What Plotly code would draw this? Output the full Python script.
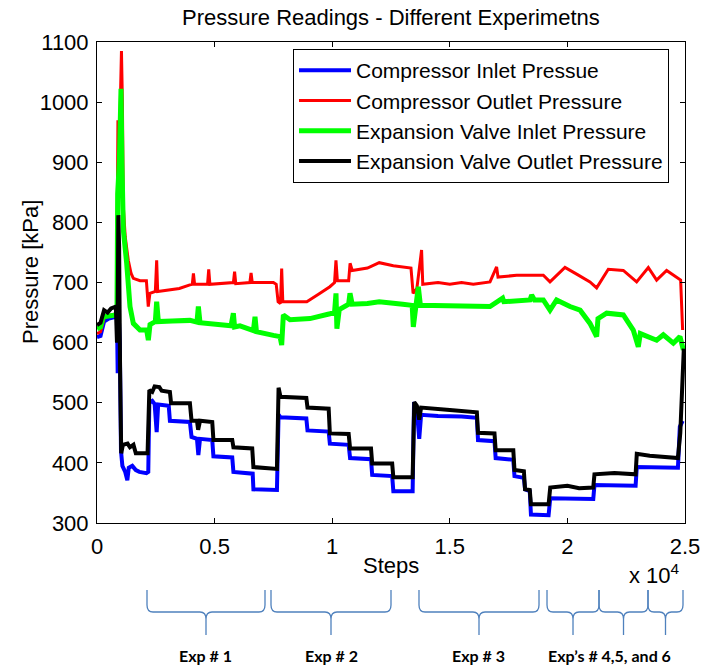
import plotly.graph_objects as go

# ---------------- data ----------------
inlet_steps = [0,150,300,500,800,850,880,930,970,1020,1080,1200,1290,1350,1500,1650,1800,2100,2180,2225,2350,2450,2537,2600,3050,3100,3950,4020,4250,4309,4380,4900,4950,5750,5800,6620,6650,7650,7720,7800,8900,8950,9850,9900,10700,10760,11650,11700,12550,12600,13420,13480,13600,13700,13780,14500,15500,16150,16200,16900,16950,17700,17750,18150,18200,18400,18450,19200,19270,21100,21150,22900,22950,24700,24780,24900]
inlet_kpa = [609,611,635,640,643,640,549,640,600,420,395,385,371,392,395,388,385,383,385,500,503,498,451,497,495,470,468,443,440,413,440,438,411,409,385,382,356,355,480,476,474,454,452,432,430,408,406,380,378,353,353,501,488,440,480,478,477,475,438,436,408,405,378,375,356,353,314,313,341,340,363,362,393,392,460,470]

outlet_comp_steps = [0,150,300,500,800,850,870,890,920,980,1040,1080,1120,1200,1330,1450,1545,1830,2100,2180,2250,2480,2537,2580,3000,3500,3950,4050,4100,4150,4700,4750,4800,5800,5850,5900,6500,6550,6600,7500,7620,7700,7800,7852,7900,8920,9400,9900,10100,10160,10220,10700,10760,10850,11500,12000,12600,13350,13440,13600,13800,13850,14500,15000,15500,16000,16709,16990,17050,17840,18551,18976,19260,19897,20393,20960,21243,21739,22377,22944,23440,23794,24219,24644,24814,24899]
outlet_comp_kpa = [615,618,640,645,648,650,850,970,870,1000,1085,1000,826,776,737,715,707,703,703,660,682,685,737,685,687,690,696,697,715,697,697,722,697,700,718,698,700,716,700,700,697,668,665,723,668,668,680,693,700,737,703,703,732,720,724,733,728,724,682,690,754,697,700,697,700,697,701,726,709,712,712,712,701,725,714,701,691,722,720,701,725,704,720,709,704,621]

valve_in_steps = [0,150,269,500,808,850,879,950,1021,1060,1120,1262,1403,1545,1828,2112,2183,2254,2480,2537,2608,3200,3954,4250,4309,4380,5000,5700,5797,5850,6080,6650,6718,6780,7500,7781,7852,7923,8206,9056,9906,10100,10161,10200,10300,10700,10757,10850,11500,12000,13000,13400,13449,13550,13661,13750,15000,16000,16709,17247,17300,18410,18480,18600,18976,19260,19540,20110,20540,20960,21243,21300,21670,22377,22800,23014,23100,23794,24078,24503,24786,24930]
valve_in_kpa = [623,626,643,644,646,650,848,900,1022,900,787,732,660,632,621,621,604,630,635,668,635,636,637,634,660,633,630,628,649,626,628,620,643,618,612,610,596,646,638,640,648,650,682,623,655,664,682,664,665,668,664,662,626,660,693,662,662,660,660,674,668,671,679,671,671,654,671,660,654,632,610,640,649,646,621,593,615,604,613,599,610,588]

valve_out_steps = [0,150,300,450,600,800,850,880,907,940,980,1030,1100,1300,1400,1550,1650,2150,2225,2350,2450,2650,2750,3100,3150,3950,4020,4250,4300,4380,4900,4950,5750,5800,6600,6650,7650,7720,7800,8900,8950,9850,9900,10700,10760,11650,11700,12550,12600,13420,13490,13600,13700,13780,15000,16150,16200,16900,16950,17700,17750,18150,18200,18400,18450,19200,19270,20000,20500,21100,21150,22000,22900,22950,23500,24000,24700,24800,24950]
valve_out_kpa = [629,633,654,650,657,660,600,645,812,760,560,416,430,432,426,430,416,416,521,518,527,526,520,518,499,499,470,470,455,470,468,438,438,426,424,393,390,525,510,508,492,490,449,448,424,424,399,399,376,376,501,495,472,492,488,484,450,449,421,421,388,386,356,355,331,331,359,362,358,359,381,383,381,415,412,410,408,450,590]

series_names = ["Compressor Inlet Pressue", "Compressor Outlet Pressure",
                "Expansion Valve Inlet Pressure", "Expansion Valve Outlet Pressure"]

x_tick_vals = [0, 5000, 10000, 15000, 20000, 25000]
x_tick_text = ["0", "0.5", "1", "1.5", "2", "2.5"]
y_tick_vals = [300, 400, 500, 600, 700, 800, 900, 1000, 1100]

exp_start = [2126, 7398, 13690, 19133, 21344, 23427]
exp_end = [7143, 12500, 18793, 21344, 23427, 24915]
exp_labels = ["Exp # 1", "Exp # 2", "Exp # 3", "Exp\u2019s # 4,5, and 6"]
exp_label_pos = [4634, 9949, 16241, 21800]

# ---------------- figure ----------------
W, H = 703, 666
ML, MR, MT, MB = 97, 18, 42, 143
PW, PH = W - ML - MR, H - MT - MB

def py(p):  # pixel row -> paper y
    return (H - MB - p) / PH

def px(p):  # pixel col -> paper x
    return (p - ML) / PW

FONT = "Liberation Sans, Arial, sans-serif"

fig = go.Figure()
fig.add_trace(go.Scatter(x=inlet_steps, y=inlet_kpa, mode="lines", name=series_names[0],
                         line=dict(color="#0000ff", width=4)))
fig.add_trace(go.Scatter(x=outlet_comp_steps, y=outlet_comp_kpa, mode="lines", name=series_names[1],
                         line=dict(color="#ff0000", width=3)))
fig.add_trace(go.Scatter(x=valve_in_steps, y=valve_in_kpa, mode="lines", name=series_names[2],
                         line=dict(color="#00ff00", width=5)))
fig.add_trace(go.Scatter(x=valve_out_steps, y=valve_out_kpa, mode="lines", name=series_names[3],
                         line=dict(color="#000000", width=4)))

axis_common = dict(showline=True, linecolor="black", linewidth=1, mirror="ticks",
                   ticks="inside", ticklen=5, tickcolor="black", showgrid=False,
                   zeroline=False, automargin=False,
                   tickfont=dict(family=FONT, size=22, color="black"))
fig.update_xaxes(range=[0, 25000], tickmode="array", tickvals=x_tick_vals, ticktext=x_tick_text,
                 ticklabelstandoff=4, **axis_common)
fig.update_yaxes(range=[300, 1100], tickmode="array", tickvals=y_tick_vals,
                 ticklabelstandoff=3, **axis_common)

annotations = [
    dict(text="Pressure Readings - Different Experimetns", x=0.5, y=py(17), xref="paper", yref="paper",
         showarrow=False, font=dict(family=FONT, size=22, color="black"), xanchor="center", yanchor="middle"),
    dict(text="Steps", x=0.5, y=py(565), xref="paper", yref="paper", showarrow=False,
         font=dict(family=FONT, size=22, color="black"), xanchor="center", yanchor="middle"),
    dict(text="Pressure [kPa]", x=px(30), y=py(272), xref="paper", yref="paper", showarrow=False,
         textangle=-90, font=dict(family=FONT, size=22, color="black"), xanchor="center", yanchor="middle"),
    dict(text="x 10<sup>4</sup>", x=px(682), y=py(574), xref="paper", yref="paper", showarrow=False,
         font=dict(family=FONT, size=22, color="black"), xanchor="right", yanchor="middle"),
]
for lab, pos in zip(exp_labels, exp_label_pos):
    annotations.append(dict(text="<b>" + lab + "</b>", x=pos, y=py(655), xref="x", yref="paper",
                            showarrow=False, font=dict(family="Lato, Liberation Sans, sans-serif", size=16, color="black"),
                            xanchor="center", yanchor="middle"))

# curly braces
r = 6 * 25000 / PW
ytop, ycorn, yh, ytipc, ybot = py(590), py(605), py(612), py(619), py(635)
shapes = []
for L, R in zip(exp_start, exp_end):
    C = (L + R) / 2
    path = (f"M {L},{ytop} L {L},{ycorn} Q {L},{yh} {L + r},{yh} L {C - r},{yh} "
            f"Q {C},{yh} {C},{ytipc} L {C},{ybot} L {C},{ytipc} Q {C},{yh} {C + r},{yh} "
            f"L {R - r},{yh} Q {R},{yh} {R},{ycorn} L {R},{ytop}")
    shapes.append(dict(type="path", path=path, xref="x", yref="paper",
                       line=dict(color="#4F81BD", width=1.3)))

fig.update_layout(
    width=W, height=H, margin=dict(l=ML, r=MR, t=MT, b=MB, pad=0, autoexpand=False),
    plot_bgcolor="white", paper_bgcolor="white",
    showlegend=True,
    legend=dict(x=px(293), y=py(49), xanchor="left", yanchor="top",
                bgcolor="white", bordercolor="black", borderwidth=1,
                font=dict(family=FONT, size=21, color="black"), itemwidth=52),
    annotations=annotations, shapes=shapes,
)

fig.write_html("out.html")
